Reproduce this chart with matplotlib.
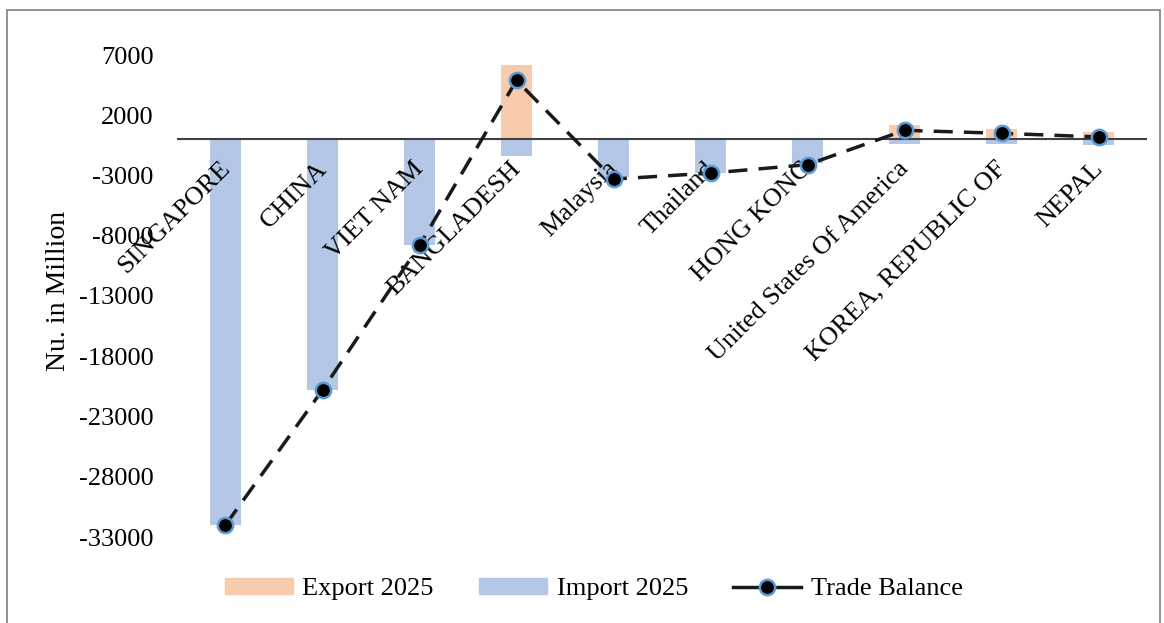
import matplotlib.pyplot as plt
import numpy as np
from matplotlib.patches import Rectangle, Patch
from matplotlib.lines import Line2D

plt.rcParams['font.family'] = ['Liberation Serif', 'DejaVu Serif']
plt.rcParams['axes.unicode_minus'] = False

countries = ['SINGAPORE', 'CHINA', 'VIET NAM', 'BANGLADESH', 'Malaysia', 'Thailand',
             'HONG KONG', 'United States Of America', 'KOREA, REPUBLIC OF', 'NEPAL']
export_2025 = [0, 0, 0, 6200, 150, 0, 0, 1150, 850, 600]
import_2025 = [-32000, -20800, -8800, -1350, -3100, -2800, -2000, -350, -350, -450]
trade_balance = [-32000, -20800, -8800, 4900, -3300, -2800, -2100, 750, 500, 200]

x = np.arange(len(countries))
fs = 19

fig = plt.figure(figsize=(11.64, 6.23), dpi=100)
ax = fig.add_axes([177 / 1164, 1 - 537 / 623, 970 / 1164, 482 / 623])

ax.bar(x, export_2025, width=0.31, color='#F8CBAD', zorder=2)
ax.bar(x, import_2025, width=0.31, color='#B4C7E7', zorder=2)
ax.axhline(0, color='#404040', lw=1.5, zorder=3)
mk = dict(marker='o', markersize=11, markerfacecolor='black',
          markeredgecolor='#5B9BD5', markeredgewidth=1.8)
ax.plot(x, trade_balance, color='#1a1a1a', lw=2.5, dashes=(5.5, 3.2), zorder=4, **mk)

ax.set_xlim(-0.5, len(countries) - 0.5)
ax.set_ylim(-33000, 7000)
ax.set_yticks(np.arange(-33000, 7001, 5000))
ax.tick_params(axis='y', length=0, labelsize=fs, pad=17)
ax.set_xticks([])
for s in ax.spines.values():
    s.set_visible(False)

# category names sit just under the zero line, rotated
for xi, name in zip(x, countries):
    ax.annotate(name, (xi, 0), xytext=(-5, -13), textcoords='offset points',
                rotation=45, rotation_mode='anchor', ha='right', va='top',
                fontsize=fs)

ax.set_ylabel('Nu. in Million', fontsize=fs + 1)
ax.yaxis.set_label_coords(-0.109, 0.51)

handles = [Patch(color='#F8CBAD', label='Export 2025'),
           Patch(color='#B4C7E7', label='Import 2025'),
           Line2D([], [], color='#1a1a1a', lw=2.5, label='Trade Balance', **mk)]
fig.legend(handles=handles, loc='center', bbox_to_anchor=(0.51, 1 - 589 / 623), ncol=3,
           frameon=False, fontsize=fs, handlelength=2.6, handleheight=0.55,
           columnspacing=1.7, handletextpad=0.35)

fig.patches.append(Rectangle((7 / 1164, -0.05), 1153 / 1164, 1.05 - 10 / 623,
                             transform=fig.transFigure, fill=False,
                             edgecolor='#7f7f7f', lw=1.2))

fig.savefig('out.png', dpi=100)
